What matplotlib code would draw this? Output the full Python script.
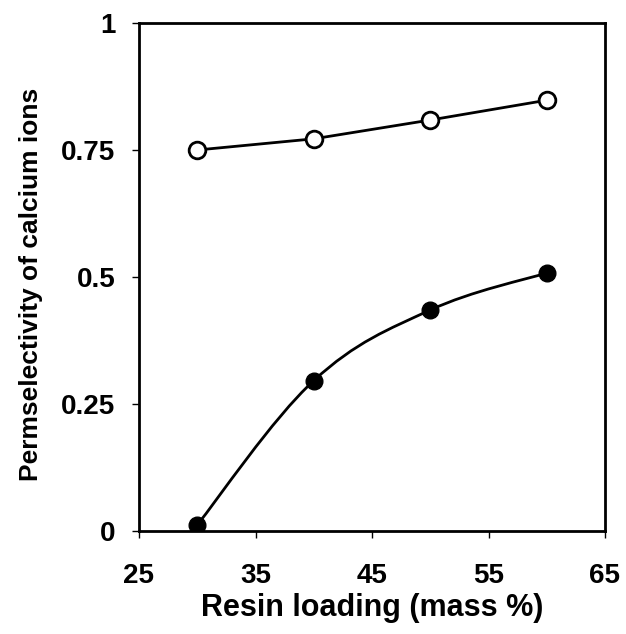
import matplotlib.pyplot as plt
import numpy as np
from matplotlib.path import Path
from matplotlib.patches import PathPatch

plt.rcParams['font.family'] = ['Liberation Sans', 'DejaVu Sans']
plt.rcParams['font.weight'] = 'bold'

# Daten
loading = [30, 40, 50, 60]
perm_open = [0.75, 0.772, 0.809, 0.848]
perm_filled = [0.012, 0.296, 0.435, 0.508]

x_ticks = [25, 35, 45, 55, 65]
y_ticks = [0, 0.25, 0.5, 0.75, 1]
y_ticklabels = ['0', '0.25', '0.5', '0.75', '1']


def smooth_path(xs, ys, t=0.18):
    # Catmull-Rom-artige Bezier-Kurve durch die Datenpunkte
    xs = np.asarray(xs, float)
    ys = np.asarray(ys, float)
    n = len(xs)
    verts = [(xs[0], ys[0])]
    codes = [Path.MOVETO]
    for i in range(n - 1):
        i0 = max(i - 1, 0)
        i3 = min(i + 2, n - 1)
        c1 = (xs[i] + (xs[i + 1] - xs[i0]) * t, ys[i] + (ys[i + 1] - ys[i0]) * t)
        c2 = (xs[i + 1] - (xs[i3] - xs[i]) * t, ys[i + 1] - (ys[i3] - ys[i]) * t)
        verts += [c1, c2, (xs[i + 1], ys[i + 1])]
        codes += [Path.CURVE4] * 3
    return Path(verts, codes)


fig = plt.figure(figsize=(6.26, 6.34), dpi=100)
ax = fig.add_axes([139 / 626, 1 - 531 / 634, (605 - 139) / 626, (531 - 23) / 634])

ax.plot(loading, perm_open, color='black', lw=2, marker='o', ms=12,
        mfc='white', mec='black', mew=2, zorder=3)
ax.add_patch(PathPatch(smooth_path(loading, perm_filled), fill=False,
                       edgecolor='black', lw=2, zorder=2))
ax.plot(loading, perm_filled, ls='none', marker='o', ms=12,
        mfc='black', mec='black', zorder=3)

ax.set_xlim(25, 65)
ax.set_ylim(0, 1)
ax.set_xticks(x_ticks)
ax.set_yticks(y_ticks)
ax.set_yticklabels(y_ticklabels)
for s in ax.spines.values():
    s.set_linewidth(2)
ax.tick_params(direction='out', length=5, width=1, labelsize=20)
ax.tick_params(axis='x', pad=18)
ax.tick_params(axis='y', pad=12)

ax.set_xlabel('Resin loading (mass %)', fontsize=22, fontweight='bold', labelpad=3)
ax.set_ylabel('Permselectivity of calcium ions', fontsize=19, fontweight='bold', labelpad=12)
ax.yaxis.set_label_coords(-0.205, 0.485)

plt.savefig('out.png', dpi=100)
